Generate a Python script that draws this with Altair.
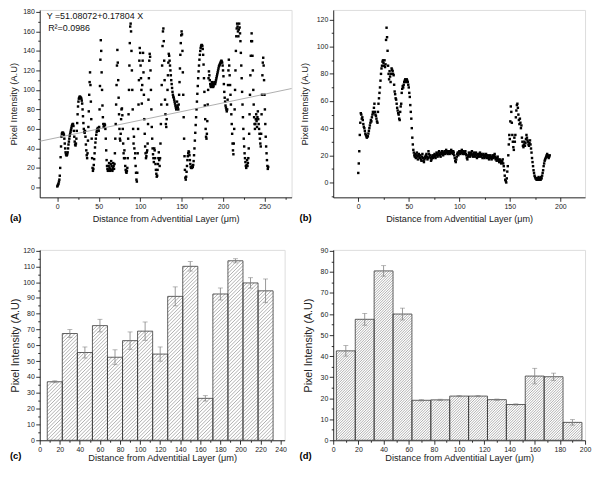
import altair as alt
import pandas as pd
import numpy as np

FONT = "Liberation Sans"

# ---------------- Panel (a): intensity profile, sampled every 0.5 um ----------------
a_step = 0.5
a_y = [
    1, 2, 3, 4, 6, 8, 12, 20, 31, 42,            # 0
    52, 55, 56, 56, 56, 55, 54, 50, 45, 40,      # 5
    36, 34, 33, 33, 34, 36, 40, 44, 47, 50,      # 10
    53, 55, 57, 59, 61, 63, 64, 65, 65, 63,      # 15
    58, 52, 47, 44, 43, 45, 50, 58, 66, 75,      # 20
    83, 88, 91, 92, 93, 93, 92, 92, 91, 89,      # 25
    86, 80, 73, 66, 60, 57, 56, 58, 52, 44,      # 30
    38, 33, 30, 35, 48, 62, 78, 95, 108, 118,    # 35
    105, 88, 70, 50, 30, 20, 17, 19, 23, 29,     # 40
    35, 41, 46, 50, 54, 57, 59, 60, 61, 60,      # 45
    58, 62, 80, 104, 131, 151, 140, 118, 100, 84,  # 50
    72, 65, 62, 63, 65, 64, 60, 50, 38, 28,      # 55
    22, 19, 17, 18, 22, 25, 20, 17, 19, 24,      # 60
    27, 22, 18, 17, 20, 25, 22, 19, 24, 35,      # 65
    50, 65, 85, 105, 125, 141, 128, 110, 92, 75,  # 70
    60, 50, 48, 55, 70, 80, 81, 74, 60, 45,      # 75
    35, 30, 38, 30, 22, 18, 16, 15, 17, 20,      # 80
    30, 50, 75, 100, 125, 148, 165, 168, 160, 140,  # 85
    120, 100, 80, 60, 45, 52, 40, 30, 35, 22,    # 90
    15, 8, 6, 15, 35, 60, 85, 110, 130, 143,     # 95
    138, 125, 112, 100, 86, 105, 130, 138, 118, 95,  # 100
    70, 55, 42, 35, 30, 32, 36, 38, 45, 65,      # 105
    90, 112, 130, 137, 134, 120, 100, 80, 62, 50,  # 110
    40, 34, 30, 26, 40, 38, 30, 24, 18, 14,      # 115
    11, 12, 18, 24, 30, 36, 28, 22, 30, 45,      # 120
    65, 85, 105, 125, 145, 160, 163, 150, 130, 110,  # 125
    90, 75, 65, 62, 70, 85, 100, 115, 128, 137,  # 130
    135, 130, 125, 120, 115, 110, 106, 102, 98, 95,  # 135
    93, 92, 90, 88, 86, 84, 82, 80, 82, 88,      # 140
    84, 82, 80, 85, 95, 108, 122, 136, 148, 156,  # 145
    160, 157, 140, 118, 95, 72, 50, 32, 18, 10,  # 150
    8, 11, 16, 22, 28, 32, 35, 37, 36, 33,       # 155
    28, 24, 21, 20, 21, 20, 22, 21, 23, 27,      # 160
    33, 40, 48, 56, 64, 72, 80, 88, 96, 104,     # 165
    112, 119, 125, 131, 136, 140, 143, 145, 146, 146,  # 170
    145, 142, 136, 126, 112, 98, 84, 70, 60, 52,  # 175
    50, 55, 68, 85, 100, 112, 119, 115, 110, 106,  # 180
    104, 103, 105, 108, 106, 104, 103, 104, 106, 108,  # 185
    107, 106, 108, 110, 112, 114, 116, 118, 120, 122,  # 190
    124, 125, 126, 127, 128, 129, 130, 129, 128, 125,  # 195
    120, 114, 106, 98, 92, 88, 84, 82, 80, 78,   # 200
    80, 90, 105, 120, 131, 125, 115, 105, 95, 85,  # 205
    75, 65, 55, 45, 38, 34, 45, 60, 80, 100,     # 210
    120, 140, 155, 163, 168, 165, 160, 155, 162, 168,  # 215
    164, 158, 150, 138, 125, 112, 98, 85, 72, 60,  # 220
    50, 42, 35, 30, 26, 22, 20, 23, 28, 22,      # 225
    25, 30, 40, 55, 75, 95, 115, 135, 150, 158,  # 230
    150, 135, 120, 100, 85, 72, 65, 60, 65, 70,  # 235
    75, 68, 62, 72, 78, 70, 65, 60, 55, 50,      # 240
    45, 42, 55, 75, 95, 115, 128, 133, 125, 110,  # 245
    95, 80, 65, 52, 42, 35, 28, 22, 19, 21,      # 250
]
fit_intercept = 51.08072
fit_slope = 0.17804
a_xdom = [-21.2, 282.7]
a_ydom = [-10.17, 182.03]

# ---------------- Panel (b): intensity profile, sampled every 0.5 um ----------------
b_step = 0.5
b_y = [
    7, 14, 23, 35, 44, 51, 50, 47, 48, 46,       # 0
    43, 41, 40, 38, 36, 35, 34, 33, 34, 34,      # 5
    36, 38, 40, 42, 44, 46, 45, 48, 50, 52,      # 10
    51, 55, 58, 52, 50, 49, 47, 45, 44, 52,      # 15
    58, 62, 66, 70, 75, 80, 84, 86, 89, 90,      # 20
    88, 86, 90, 85, 87, 105, 114, 107, 97, 86,   # 25
    80, 76, 82, 78, 74, 80, 84, 83, 82, 80,      # 30
    79, 72, 67, 65, 62, 61, 58, 55, 53, 51,      # 35
    50, 47, 46, 52, 56, 58, 66, 69, 71, 70,      # 40
    72, 74, 75, 76, 75, 74, 76, 75, 74, 72,      # 45
    70, 66, 63, 57, 52, 47, 40, 33, 28, 24,      # 50
    22, 20, 19, 21, 18, 20, 22, 19, 17, 20,      # 55
    21, 19, 18, 20, 17, 16, 19, 21, 18, 16,      # 60
    15, 17, 19, 18, 20, 21, 19, 17, 18, 23,      # 65
    21, 19, 20, 18, 16, 17, 19, 20, 18, 19,      # 70
    20, 21, 19, 18, 20, 22, 21, 19, 20, 22,      # 75
    23, 21, 20, 19, 22, 21, 23, 22, 20, 21,      # 80
    22, 23, 21, 22, 24, 22, 23, 21, 22, 23,      # 85
    22, 21, 23, 22, 24, 23, 22, 21, 23, 22,      # 90
    20, 18, 16, 15, 17, 19, 21, 22, 20, 22,      # 95
    23, 22, 21, 23, 22, 24, 22, 21, 23, 22,      # 100
    21, 22, 23, 21, 20, 18, 17, 19, 20, 22,      # 105
    21, 19, 20, 22, 21, 23, 20, 19, 21, 22,      # 110
    20, 19, 21, 22, 20, 18, 19, 21, 20, 19,      # 115
    21, 22, 20, 19, 21, 20, 18, 20, 21, 19,      # 120
    18, 20, 19, 21, 20, 18, 19, 20, 18, 17,      # 125
    19, 20, 18, 19, 17, 18, 20, 19, 18, 20,      # 130
    21, 19, 17, 18, 16, 18, 19, 17, 16, 15,      # 135
    17, 16, 15, 14, 16, 15, 17, 14, 12, 9,       # 140
    5, 2, 1, 0, 3, 8, 12, 20, 28, 35,            # 145
    32, 45, 56, 52, 44, 35, 30, 26, 24, 33,      # 150
    30, 35, 48, 53, 57, 58, 55, 50, 46, 43,      # 155
    47, 44, 40, 42, 33, 30, 27, 26, 28, 30,      # 160
    27, 29, 32, 35, 33, 31, 30, 28, 27, 29,      # 165
    31, 28, 25, 22, 18, 15, 12, 9, 7, 5,         # 170
    4, 3, 3, 2, 3, 2, 3, 4, 2, 3,                # 175
    3, 2, 4, 3, 5, 7, 9, 12, 14, 16,             # 180
    17, 18, 19, 20, 21, 20, 19, 18, 19, 20,      # 185
]
b_xdom = [-24.8, 224.5]
b_ydom = [-10.96, 127.1]

# ---------------- Panel (c): binned means ----------------
c_bin = 15
c_x = [15, 30, 45, 60, 75, 90, 105, 120, 135, 150, 165, 180, 195, 210, 225]
c_y = [37, 67.5, 55.5, 72.5, 52.5, 63, 69, 54.5, 91, 110, 26.5, 92.5, 113.5, 99.5, 94.5]
c_err = [0.6, 2.5, 3.5, 4, 4.7, 5.5, 5.8, 4.5, 6, 3, 1.7, 3.8, 1.3, 3.3, 7.5]

# ---------------- Panel (d): binned means ----------------
d_bin = 15
d_x = [10, 25, 40, 55, 70, 85, 100, 115, 130, 145, 160, 175, 190]
d_y = [42.5, 57.5, 80.5, 60, 19, 19.2, 21, 21, 19.3, 17, 30.5, 30.2, 8.5]
d_err = [2.5, 2.8, 2.5, 2.8, 0.3, 0.3, 0.3, 0.3, 0.3, 0.3, 3.7, 1.7, 1.3]

XTITLE = "Distance from Adventitial Layer (μm)"
YTITLE = "Pixel Intensity (A.U)"


def major_axis(values, title, tsize, tpad, orient, lpad=1.5):
    return alt.Axis(values=values, title=title, grid=False, format="d", orient=orient,
                    domainColor="black", domainWidth=0.8, tickColor="black",
                    tickWidth=0.8, tickSize=4, labelFont=FONT, labelFontSize=7,
                    labelColor="#222", labelPadding=lpad, labelFlush=False,
                    labelOverlap=False, titleFont=FONT, titleFontSize=tsize,
                    titleFontWeight="normal", titleColor="#222", titlePadding=tpad)


def minor_axis(values, orient):
    return alt.Axis(values=values, title=None, labels=False, domain=False, orient=orient,
                    grid=False, tickColor="black", tickWidth=0.8, tickSize=2)


def minor_layer(xs, ys, xvals, yvals):
    return alt.Chart(pd.DataFrame({"x": [xvals[0]], "y": [yvals[0]]})).mark_point(opacity=0, size=1).encode(
        x=alt.X("x:Q", scale=xs, axis=minor_axis(xvals, "bottom")),
        y=alt.Y("y:Q", scale=ys, axis=minor_axis(yvals, "left")),
    )


def label_layer(text, dx, dy):
    return alt.Chart(pd.DataFrame({"t": [text]})).mark_text(
        align="left", baseline="middle", font=FONT, fontSize=9.5, fontWeight="bold", color="black"
    ).encode(x=alt.value(dx), y=alt.value(dy), text="t:N")


def text_layer(text, dx, dy):
    return alt.Chart(pd.DataFrame({"t": [text]})).mark_text(
        align="left", baseline="middle", font=FONT, fontSize=9, color="#111"
    ).encode(x=alt.value(dx), y=alt.value(dy), text="t:N")


# ---- (a)
xa = alt.Scale(domain=a_xdom, nice=False, zero=False)
ya = alt.Scale(domain=a_ydom, nice=False, zero=False)
df_a = pd.DataFrame({"x": np.arange(len(a_y)) * a_step, "y": a_y})
pts_a = alt.Chart(df_a).mark_square(size=6, color="black", opacity=1, strokeWidth=0).encode(
    x=alt.X("x:Q", scale=xa, axis=major_axis(list(range(0, 251, 50)), XTITLE, 9.2, 5, "bottom")),
    y=alt.Y("y:Q", scale=ya, axis=major_axis(list(range(0, 181, 20)), YTITLE, 9.5, 4, "left")),
)
fit_a = alt.Chart(pd.DataFrame({"x": a_xdom})).transform_calculate(
    y=f"{fit_intercept} + {fit_slope} * datum.x"
).mark_line(color="#9a9a9a", strokeWidth=0.8).encode(
    x=alt.X("x:Q", scale=xa, axis=None), y=alt.Y("y:Q", scale=ya, axis=None)
)
pa = alt.layer(
    pts_a, fit_a,
    minor_layer(xa, ya, list(range(25, 276, 50)), list(range(10, 181, 20))),
    text_layer("Y =51.08072+0.17804 X", 7, 6),
    text_layer("R²=0.0986", 8.5, 18.5),
    label_layer("(a)", -30, 210),
).resolve_axis(x="independent", y="independent").properties(width=254, height=189)

# ---- (b)
xb = alt.Scale(domain=b_xdom, nice=False, zero=False)
yb = alt.Scale(domain=b_ydom, nice=False, zero=False)
df_b = pd.DataFrame({"x": np.arange(len(b_y)) * b_step, "y": b_y})
pts_b = alt.Chart(df_b).mark_square(size=6, color="black", opacity=1, strokeWidth=0).encode(
    x=alt.X("x:Q", scale=xb, axis=major_axis(list(range(0, 201, 50)), XTITLE, 9.2, 5, "bottom")),
    y=alt.Y("y:Q", scale=yb, axis=major_axis(list(range(0, 121, 20)), YTITLE, 9.5, 7, "left")),
)
pb = alt.layer(
    pts_b,
    minor_layer(xb, yb, list(range(25, 201, 50)), list(range(-10, 121, 20))),
    label_layer("(b)", -34, 210),
).resolve_axis(x="independent", y="independent").properties(width=254, height=189)


def hatch_frame(xs_list, ys_list, binw, xdom, width, height, ymax, spacing):
    """Diagonal '///' hatch segments clipped to each bar, in data units."""
    kx = width / (xdom[1] - xdom[0])
    ky = height / ymax
    rows = []
    for xc, yv in zip(xs_list, ys_list):
        uL = (xc - binw / 2 - xdom[0]) * kx
        uR = (xc + binw / 2 - xdom[0]) * kx
        H = yv * ky
        C = np.floor((uL - H) / spacing) * spacing
        while C < uR:
            u0 = max(uL, C)
            u1 = min(uR, H + C)
            if u1 - u0 > 0.05:
                rows.append({"hx0": u0 / kx + xdom[0], "hx1": u1 / kx + xdom[0],
                             "hy0": (u0 - C) / ky, "hy1": (u1 - C) / ky})
            C += spacing
    return pd.DataFrame(rows)


def bar_panel(xs_list, ys_list, errs, binw, xdom, ydom, width, height, xmaj, xmin, ymaj, ymin,
              spacing, ytsize, ytpad, xtpad, label, lab_dx):
    xs = alt.Scale(domain=xdom, nice=False, zero=False)
    ys = alt.Scale(domain=ydom, nice=False, zero=False)
    df = pd.DataFrame({"x": xs_list, "y": ys_list, "err": errs})
    base = alt.Chart(df).transform_calculate(
        x0=f"datum.x - {binw / 2}", x1=f"datum.x + {binw / 2}",
        lo="datum.y - datum.err", hi="datum.y + datum.err",
    )
    bars_bg = base.mark_bar(fill="white", strokeWidth=0).encode(
        x=alt.X("x0:Q", scale=xs, axis=major_axis(xmaj, XTITLE, 9.3, xtpad, "bottom")),
        x2="x1:Q",
        y=alt.Y("y:Q", scale=ys, axis=major_axis(ymaj, YTITLE, ytsize, ytpad, "left")),
        y2=alt.datum(0),
    )
    hdf = hatch_frame(xs_list, ys_list, binw, xdom, width, height, ydom[1], spacing)
    hatch = alt.Chart(hdf).mark_rule(color="#7a7a7a", strokeWidth=0.6).encode(
        x=alt.X("hx0:Q", scale=xs, axis=None), x2="hx1:Q",
        y=alt.Y("hy0:Q", scale=ys, axis=None), y2="hy1:Q")
    bars_out = base.mark_bar(fill=None, fillOpacity=0, stroke="#3a3a3a", strokeWidth=0.8).encode(
        x=alt.X("x0:Q", scale=xs, axis=None), x2="x1:Q",
        y=alt.Y("y:Q", scale=ys, axis=None), y2=alt.datum(0))
    rule = base.mark_rule(color="#808080", strokeWidth=0.8).encode(
        x=alt.X("x:Q", scale=xs, axis=None), y=alt.Y("lo:Q", scale=ys, axis=None), y2="hi:Q")
    cap_hi = base.mark_tick(color="#808080", orient="horizontal", size=5, thickness=0.8).encode(
        x=alt.X("x:Q", scale=xs, axis=None), y=alt.Y("hi:Q", scale=ys, axis=None))
    cap_lo = base.mark_tick(color="#808080", orient="horizontal", size=5, thickness=0.8).encode(
        x=alt.X("x:Q", scale=xs, axis=None), y=alt.Y("lo:Q", scale=ys, axis=None))
    return alt.layer(
        bars_bg, hatch, bars_out, rule, cap_hi, cap_lo,
        minor_layer(xs, ys, xmin, ymin),
        label_layer(label, lab_dx, 208),
    ).resolve_axis(x="independent", y="independent").properties(width=width, height=height)


pc = bar_panel(c_x, c_y, c_err, c_bin, [0, 244], [0, 120.4], 247, 192,
               list(range(0, 241, 20)), list(range(10, 241, 20)),
               list(range(0, 121, 10)), list(range(5, 121, 10)),
               3.6, 10.8, 2.5, 0.5, "(c)", -30)
pd_ = bar_panel(d_x, d_y, d_err, d_bin, [0, 200], [0, 90.5], 254, 192,
                list(range(0, 201, 20)), list(range(10, 201, 20)),
                list(range(0, 91, 10)), list(range(5, 91, 10)),
                2.6, 10.8, 7, 0.5, "(d)", -34)

chart = alt.concat(
    pa, pb, pc, pd_, columns=2, spacing={"row": 53, "column": 42}, bounds="flush"
).properties(
    padding={"left": 0, "top": -3, "right": 0, "bottom": 0}, background="white"
).configure_view(stroke=None).configure(font=FONT)

chart.save("out.html", embed_options={"renderer": "svg", "actions": False})
